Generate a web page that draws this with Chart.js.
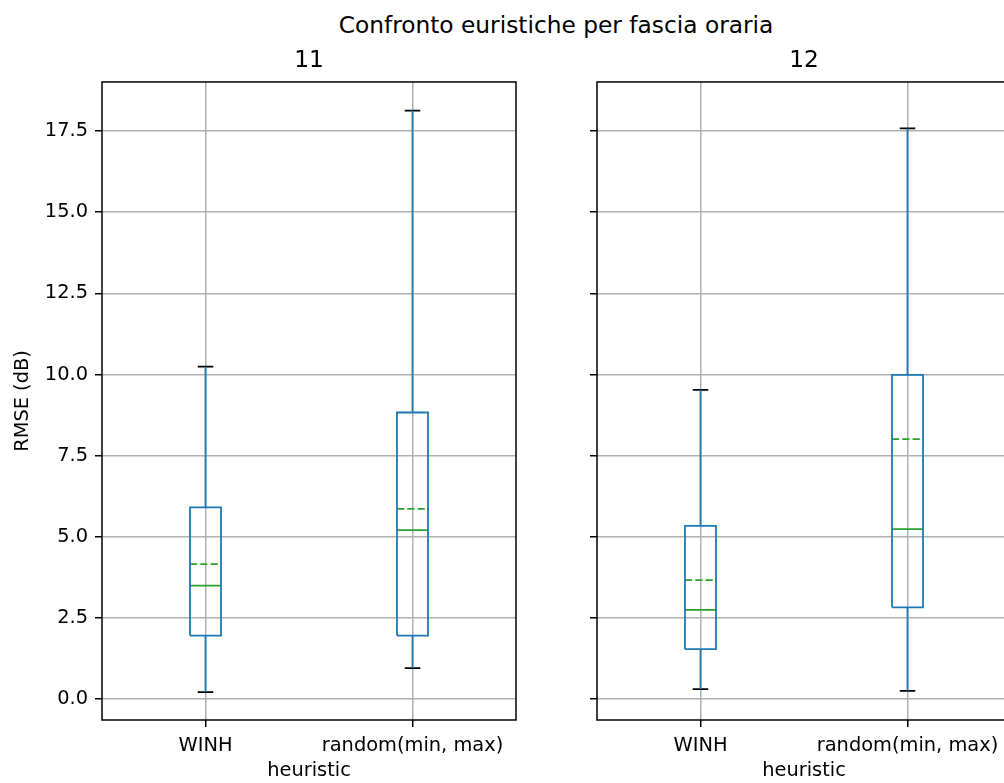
<!DOCTYPE html>
<html>
<head>
<meta charset="utf-8">
<script src="https://cdn.jsdelivr.net/npm/chart.js@4.4.1/dist/chart.umd.min.js"></script>
<style>
  html, body { margin: 0; padding: 0; background: #fff; overflow: hidden; width: 1004px; height: 783px; }
  #suptitle { position: absolute; left: 0; top: 11px; width: 1112px; text-align: center;
              font-family: "DejaVu Sans", sans-serif; font-size: 23.3px; line-height: 28px; color: #000; }
  canvas { position: absolute; top: 0; }
  #c11 { left: 0; }
  #c12 { left: 500px; }
</style>
</head>
<body>
<div id="suptitle">Confronto euristiche per fascia oraria</div>
<canvas id="c11" width="560" height="783"></canvas>
<canvas id="c12" width="530" height="783"></canvas>
<script>
// Categories and panel titles
const heuristics = ['WINH', 'random(min, max)'];
const hourTitles = ['11', '12'];

// Box statistics, hour 11 (RMSE in dB)
const whiskerLow11  = [0.22, 0.96];
const q1_11         = [1.96, 1.96];
const median11      = [3.50, 5.21];
const mean11        = [4.16, 5.86];
const q3_11         = [5.91, 8.83];
const whiskerHigh11 = [10.24, 18.13];

// Box statistics, hour 12 (RMSE in dB)
const whiskerLow12  = [0.31, 0.26];
const q1_12         = [1.54, 2.83];
const median12      = [2.75, 5.24];
const mean12        = [3.67, 8.01];
const q3_12         = [5.34, 9.99];
const whiskerHigh12 = [9.53, 17.58];

// Shared y axis
const yTicks = [0, 2.5, 5, 7.5, 10, 12.5, 15, 17.5];
const yLimits = [-0.64, 19.01];

const BLUE = '#1f77b4', GREEN = '#2ca02c';
const BOX_HALF = 0.075, CAP_HALF = 0.0375;
const LW = 1.8, THIN = 1.5;

Chart.defaults.font.family = '"DejaVu Sans", sans-serif';
Chart.defaults.font.size = 19.4;
Chart.defaults.color = '#000';

function segs(list) {
  // join segments with a gap point between them
  const out = [];
  list.forEach((s, i) => { if (i) out.push({x: s[0].x, y: null}); out.push(...s); });
  return out;
}

function buildDatasets(lo, q1, med, mean, q3, hi) {
  const boxes = [], whiskers = [], caps = [], medians = [], means = [];
  heuristics.forEach((_, i) => {
    const x = i + 1;
    boxes.push([{x: x - BOX_HALF, y: q1[i]}, {x: x + BOX_HALF, y: q1[i]}, {x: x + BOX_HALF, y: q3[i]},
                {x: x - BOX_HALF, y: q3[i]}, {x: x - BOX_HALF, y: q1[i]}]);
    whiskers.push([{x, y: lo[i]}, {x, y: q1[i]}]);
    whiskers.push([{x, y: q3[i]}, {x, y: hi[i]}]);
    caps.push([{x: x - CAP_HALF, y: lo[i]}, {x: x + CAP_HALF, y: lo[i]}]);
    caps.push([{x: x - CAP_HALF, y: hi[i]}, {x: x + CAP_HALF, y: hi[i]}]);
    medians.push([{x: x - BOX_HALF, y: med[i]}, {x: x + BOX_HALF, y: med[i]}]);
    means.push([{x: x - BOX_HALF, y: mean[i]}, {x: x + BOX_HALF, y: mean[i]}]);
  });
  const base = {pointRadius: 0, spanGaps: false, tension: 0, fill: false, borderCapStyle: 'butt'};
  return [
    {...base, label: 'whiskers', data: segs(whiskers), borderColor: BLUE, borderWidth: LW},
    {...base, label: 'boxes', data: segs(boxes), borderColor: BLUE, borderWidth: LW, borderJoinStyle: 'miter'},
    {...base, label: 'caps', data: segs(caps), borderColor: '#000', borderWidth: LW},
    {...base, label: 'median', data: segs(medians), borderColor: GREEN, borderWidth: LW},
    {...base, label: 'mean', data: segs(means), borderColor: GREEN, borderWidth: LW, borderDash: [7.2, 3.1]}
  ];
}

const framePlugin = {
  id: 'frame',
  afterDatasetsDraw(chart) {
    const {ctx, chartArea: a} = chart;
    ctx.save();
    ctx.strokeStyle = '#000';
    ctx.lineWidth = THIN;
    ctx.strokeRect(a.left, a.top, a.right - a.left, a.bottom - a.top);
    ctx.restore();
  }
};

function makeChart(id, title, datasets, yAxisWidth, rightPad, showYLabels) {
  return new Chart(document.getElementById(id), {
    type: 'line',
    data: {datasets},
    plugins: [framePlugin],
    options: {
      responsive: false,
      animation: false,
      events: [],
      layout: {padding: {top: 47, left: 0, right: rightPad, bottom: 0}},
      plugins: {
        legend: {display: false},
        tooltip: {enabled: false},
        title: {display: true, text: title, fullSize: false,
                font: {size: 23.3, weight: 'normal'}, padding: {top: 0, bottom: 7}}
      },
      scales: {
        x: {
          type: 'linear', min: 0.5, max: 2.5,
          afterBuildTicks: s => { s.ticks = heuristics.map((_, i) => ({value: i + 1})); },
          afterFit: s => { s.height = 63; },
          ticks: {padding: 7, maxRotation: 0, autoSkip: false,
                  callback: v => heuristics[Math.round(v) - 1]},
          grid: {color: '#b0b0b0', lineWidth: THIN, tickColor: '#000', tickWidth: THIN, tickLength: 7},
          border: {display: false},
          title: {display: true, text: 'heuristic', padding: {top: 0, bottom: 0}}
        },
        y: {
          type: 'linear', min: yLimits[0], max: yLimits[1],
          afterBuildTicks: s => { s.ticks = yTicks.map(v => ({value: v})); },
          afterFit: s => { s.width = yAxisWidth; },
          ticks: {padding: 7, callback: v => showYLabels ? v.toFixed(1) : ''},
          grid: {color: '#b0b0b0', lineWidth: THIN, tickColor: '#000', tickWidth: THIN, tickLength: 7},
          border: {display: false},
          title: {display: showYLabels, text: 'RMSE (dB)', padding: {top: 11, bottom: 0}}
        }
      }
    }
  });
}

makeChart('c11', hourTitles[0],
  buildDatasets(whiskerLow11, q1_11, median11, mean11, q3_11, whiskerHigh11), 102, 44, true);
makeChart('c12', hourTitles[1],
  buildDatasets(whiskerLow12, q1_12, median12, mean12, q3_12, whiskerHigh12), 97, 19, false);
</script>
</body>
</html>
